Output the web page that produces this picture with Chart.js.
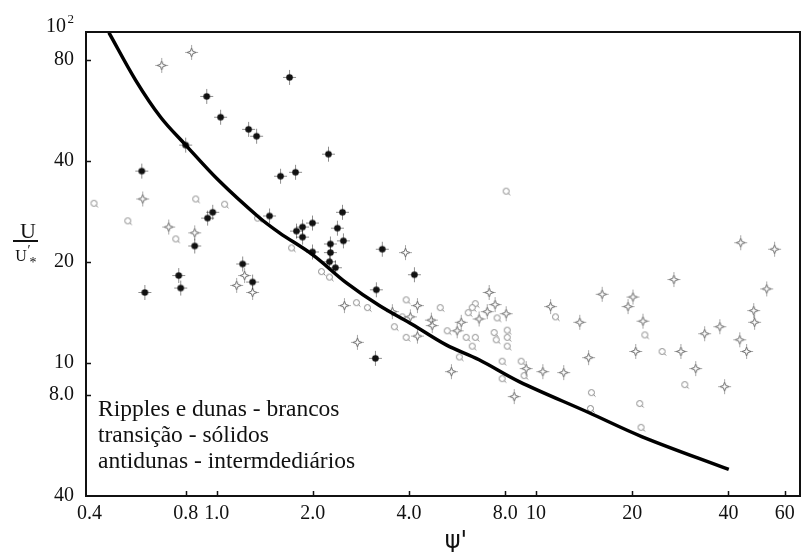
<!DOCTYPE html>
<html>
<head>
<meta charset="utf-8">
<script src="https://cdn.jsdelivr.net/npm/chart.js@4/dist/chart.umd.min.js"></script>
<style>
  html, body { margin: 0; background: #fff; }
  #wrap { width: 805px; height: 552px; }
</style>
</head>
<body>
<div id="wrap"><canvas id="chart"></canvas></div>
<script>
// AXES
const xTickVals = [0.4, 0.8, 1, 2, 4, 8, 10, 20, 40, 60];
const xTickLabels = ["0.4", "0.8", "1.0", "2.0", "4.0", "8.0", "10", "20", "40", "60"];
const yTickVals = [4, 8, 10, 20, 40, 80];
const yTickLabels = ["40", "8.0", "10", "20", "40", "80"];
const yTopValue = 100; // drawn as 10^2 above the frame

// CURVE (psi' vs U/u'*)
const curvePsi = [0.46, 0.558, 0.668, 0.8, 1.014, 1.353, 1.573, 1.995, 2.549, 3.23, 4.1, 5.23, 6.63, 8.85, 14.6, 21.4, 40.1];
const curveU = [96.6, 69.6, 54.0, 44.6, 35.0, 27.2, 24.4, 21.0, 17.3, 14.8, 13.0, 11.3, 10.2, 8.78, 7.1, 6.02, 4.8];

// transicao - solidos
const transX = [0.931, 1.029, 1.259, 1.334, 0.8, 0.583, 1.585, 1.691, 2.239, 1.766, 0.972, 0.937, 1.464, 0.854, 1.206, 1.296, 0.761, 0.772, 0.596, 1.778, 1.857, 1.857, 1.995, 1.995, 2.477, 2.388, 2.494, 2.271, 2.271, 2.255, 2.354, 3.3, 4.16, 3.162, 3.14];
const transY = [62.3, 54.0, 49.7, 47.4, 44.6, 37.3, 36.0, 71.0, 41.9, 37.0, 28.1, 27.0, 27.4, 22.3, 19.7, 17.4, 18.2, 16.7, 16.2, 24.7, 25.4, 23.7, 26.1, 21.4, 28.1, 25.2, 23.1, 22.6, 21.3, 20.0, 19.2, 21.8, 18.3, 16.5, 10.3];

// antidunas - intermediarios
const antiX = [0.835, 0.673, 0.587, 0.708, 0.854, 1.223, 1.155, 1.296, 3.9, 2.512, 4.25, 3.548, 4.04, 4.7, 4.73, 4.25, 2.758, 7.13, 7.03, 7.44, 6.63, 8.06, 5.83, 5.66, 5.43, 9.31, 8.54, 10.5, 12.2, 14.6, 20.5, 28.4, 31.6, 38.9, 43.7, 55.8, 27.0, 52.7, 16.1, 20.1, 19.4, 11.1, 13.7, 21.6, 48.0, 48.3, 37.6, 33.7, 43.4, 45.6];
const antiY = [84.3, 77.1, 30.8, 25.4, 24.4, 18.2, 17.0, 16.2, 21.3, 14.8, 14.8, 14.2, 13.7, 13.4, 12.9, 12.0, 11.5, 16.2, 14.2, 14.9, 13.5, 14.0, 13.2, 12.45, 9.4, 9.6, 7.92, 9.4, 9.34, 10.35, 10.8, 10.8, 9.6, 8.48, 22.8, 21.8, 17.7, 16.6, 16.0, 15.7, 14.7, 14.7, 13.2, 13.3, 14.3, 13.2, 12.8, 12.2, 11.7, 10.8];

// ripples e dunas - brancos
const ripX = [0.413, 0.86, 1.059, 0.527, 1.343, 0.745, 8.06, 1.716, 2.129, 2.255, 2.738, 2.964, 3.92, 5.01, 3.81, 3.6, 3.92, 5.27, 6.45, 6.31, 6.13, 7.55, 6.04, 6.45, 6.31, 7.39, 7.5, 8.12, 8.12, 8.12, 5.75, 7.83, 8.98, 9.17, 7.83, 11.5, 21.9, 24.8, 29.2, 14.9, 14.8, 21.1, 21.3];
const ripY = [29.9, 30.8, 29.7, 26.5, 27.0, 23.4, 32.5, 22.0, 18.7, 18.0, 15.1, 14.6, 15.4, 14.6, 13.7, 12.8, 11.9, 12.45, 15.0, 14.6, 14.1, 13.6, 11.9, 11.9, 11.2, 12.3, 11.7, 12.5, 11.9, 11.2, 10.4, 10.1, 10.1, 9.15, 8.96, 13.7, 12.1, 10.8, 8.6, 8.14, 7.3, 7.55, 6.41];

const notes = ["Ripples e dunas - brancos", "transição - sólidos", "antidunas - intermdediários"];

const pts = (xs, ys) => xs.map((v, i) => ({ x: v, y: ys[i] }));

// little glyphs used as point styles
function makeMark(kind) {
  const cv = document.createElement("canvas");
  cv.width = cv.height = 17;
  const g = cv.getContext("2d");
  if (kind !== "white") {
    g.strokeStyle = kind === "solid" ? "rgba(0,0,0,0.45)" : "rgba(0,0,0,0.35)";
    g.lineWidth = 1;
    g.beginPath();
    g.moveTo(8.5, 1); g.lineTo(8.5, 16);
    g.moveTo(2, 8.5); g.lineTo(15, 8.5);
    g.stroke();
  }
  if (kind === "solid") {
    g.fillStyle = "#111";
    g.beginPath(); g.arc(8.5, 8.5, 3.3, 0, Math.PI * 2); g.fill();
  } else if (kind === "anti") {
    g.fillStyle = "#fff"; g.strokeStyle = "#666"; g.lineWidth = 1;
    g.beginPath();
    g.moveTo(8.5, 4); g.lineTo(9.7, 7.3); g.lineTo(13, 8.5); g.lineTo(9.7, 9.7);
    g.lineTo(8.5, 13); g.lineTo(7.3, 9.7); g.lineTo(4, 8.5); g.lineTo(7.3, 7.3);
    g.closePath(); g.fill(); g.stroke();
  } else {
    g.fillStyle = "#fff"; g.strokeStyle = "#888"; g.lineWidth = 1;
    g.beginPath(); g.arc(8.5, 8.5, 3, 0, Math.PI * 2); g.fill(); g.stroke();
    g.beginPath(); g.moveTo(10.6, 10.6); g.lineTo(12.5, 12.5); g.stroke();
  }
  return cv;
}

const serif = "'Liberation Serif', 'Times New Roman', serif";

// frame, inward ticks, titles, notes
const extras = {
  id: "extras",
  afterDraw(chart) {
    const { ctx, chartArea: a } = chart;
    const x = chart.scales.x, y = chart.scales.y;
    ctx.save();
    ctx.strokeStyle = "#111";
    ctx.lineWidth = 2;
    ctx.strokeRect(a.left, a.top, a.right - a.left, a.bottom - a.top);

    ctx.lineWidth = 1.5;
    ctx.beginPath();
    xTickVals.forEach((v) => {
      const px = Math.round(x.getPixelForValue(v)) + 0.5;
      if (px > a.left + 6 && px < a.right - 6) { ctx.moveTo(px, a.bottom); ctx.lineTo(px, a.bottom - 5); }
    });
    yTickVals.forEach((v) => {
      const py = Math.round(y.getPixelForValue(v)) + 0.5;
      if (py > a.top + 6 && py < a.bottom - 6) { ctx.moveTo(a.left, py); ctx.lineTo(a.left + 5, py); }
    });
    ctx.stroke();

    ctx.fillStyle = "#111";
    // 10^2
    const y100 = y.getPixelForValue(yTopValue);
    ctx.textBaseline = "middle";
    ctx.textAlign = "right";
    ctx.font = `20px ${serif}`;
    ctx.fillText("10", 66, y100 - 1);
    ctx.font = `13px ${serif}`;
    ctx.fillText("2", 74, y100 - 8);

    // y title  U / u'*
    ctx.textAlign = "center";
    ctx.font = `22px ${serif}`;
    ctx.fillText("U", 28, 232);
    ctx.fillRect(13, 240, 25, 2);
    ctx.font = `16px ${serif}`;
    ctx.fillText("U", 21, 257);
    ctx.font = `14px ${serif}`;
    ctx.fillText("′", 29, 251);
    ctx.fillText("*", 33, 263);

    // x title
    ctx.font = "24px 'DejaVu Sans', sans-serif";
    ctx.fillText("ψ'", 456, 542);

    // notes
    ctx.textAlign = "left";
    ctx.font = `23.5px ${serif}`;
    notes.forEach((t, i) => ctx.fillText(t, 98, 410 + i * 26));
    ctx.restore();
  },
};

new Chart(document.getElementById("chart"), {
  type: "scatter",
  data: {
    datasets: [
      {
        type: "line",
        data: pts(curvePsi, curveU),
        borderColor: "#000",
        borderWidth: 3.5,
        pointRadius: 0,
        tension: 0.35,
        fill: false,
      },
      { data: pts(transX, transY), pointStyle: makeMark("solid"), pointRadius: 4 },
      { data: pts(antiX, antiY), pointStyle: makeMark("anti"), pointRadius: 4 },
      { data: pts(ripX, ripY), pointStyle: makeMark("white"), pointRadius: 4 },
    ],
  },
  options: {
    responsive: true,
    maintainAspectRatio: false,
    animation: false,
    layout: { padding: { top: 32, right: 4, left: 0, bottom: 0 } },
    plugins: { legend: { display: false }, tooltip: { enabled: false } },
    scales: {
      x: {
        type: "logarithmic",
        min: 0.39,
        max: 67,
        afterBuildTicks: (s) => { s.ticks = xTickVals.map((v) => ({ value: v })); },
        afterFit: (s) => { s.height = 56; },
        grid: { display: false, drawTicks: false },
        border: { display: false },
        ticks: {
          autoSkip: false,
          maxRotation: 0,
          padding: 6,
          color: "#111",
          font: { family: "Liberation Serif", size: 20 },
          callback: (v, i) => xTickLabels[i],
        },
      },
      y: {
        type: "logarithmic",
        min: 4,
        max: 97,
        afterBuildTicks: (s) => { s.ticks = yTickVals.map((v) => ({ value: v })); },
        afterFit: (s) => { s.width = 86; },
        grid: { display: false, drawTicks: false },
        border: { display: false },
        ticks: {
          autoSkip: false,
          padding: 12,
          color: "#111",
          font: { family: "Liberation Serif", size: 20 },
          callback: (v, i) => yTickLabels[i],
        },
      },
    },
  },
  plugins: [extras],
});
</script>
</body>
</html>
